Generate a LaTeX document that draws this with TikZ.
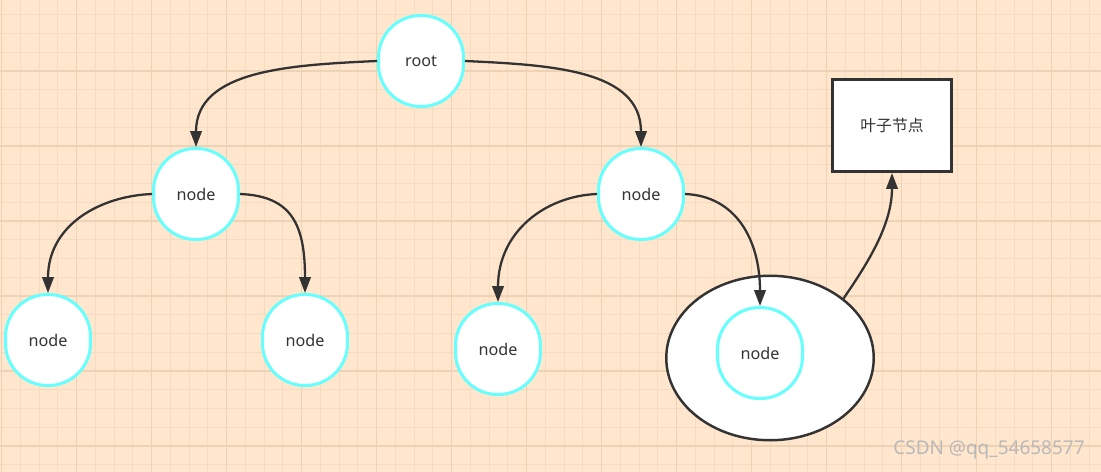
\documentclass[tikz,border=0pt]{standalone}
\usepackage{fontspec}
\setmainfont{Noto Sans}
\newfontfamily\cjk{Noto Sans CJK SC}
\usetikzlibrary{arrows.meta,shapes.geometric}
\definecolor{peach}{HTML}{FFE6CC}
\definecolor{gridminor}{HTML}{F5DBC2}
\definecolor{gridmajor}{HTML}{EDD2B6}
\definecolor{ink}{HTML}{333333}
\definecolor{aqua}{HTML}{66FFFF}
\tikzset{
  treenode/.style={draw=aqua,line width=1.7pt,fill=white,rectangle,rounded corners=0.84cm,
    minimum width=1.7cm,minimum height=1.82cm,inner sep=0pt,text=ink,font=\fontsize{9.2}{11}\selectfont},
  link/.style={draw=ink,line width=1.3pt,-{Triangle[length=9pt,width=6.5pt]}}
}
\begin{document}
\begin{tikzpicture}[x=0.02cm,y=-0.02cm]
\useasboundingbox (0,0) rectangle (1101,472);
% PAPER AND GRID
\fill [peach] (0,0) rectangle (1101,472);
\foreach \k in {0,...,58} \draw [gridminor,line width=0.55pt] ({1.7+18.75*\k},0) -- ({1.7+18.75*\k},472);
\foreach \k in {-3,...,21} \draw [gridminor,line width=0.55pt] (0,{71+18.75*\k}) -- (1101,{71+18.75*\k});
\foreach \k in {0,...,14} \draw [gridmajor,line width=0.8pt] ({1.7+75*\k},0) -- ({1.7+75*\k},472);
\foreach \k in {0,...,5} \draw [gridmajor,line width=0.8pt] (0,{71+75*\k}) -- (1101,{71+75*\k});
% THE TREE
\node [treenode] (root) at (421,61) {root};
\node [treenode] (left) at (196,194) {node};
\node [treenode] (right) at (641,194) {node};
\node [treenode] (leftleft) at (48,340) {node};
\node [treenode] (leftright) at (305,340) {node};
\node [treenode] (rightleft) at (498,349) {node};
% LEAF GROUP
\node [draw=ink,line width=1.4pt,fill=white,ellipse,minimum width=4.15cm,minimum height=3.29cm] (group) at (770,358) {};
\node [treenode] (inner) at (760,353) {node};
\node [draw=ink,line width=1.7pt,fill=white,minimum width=2.38cm,minimum height=1.84cm,text=ink,font=\cjk\fontsize{9}{11}\selectfont] (leaf) at (892,125.5) {叶子节点};
% EDGES
\draw [link] (root.west) .. controls +(-87,4) and (196,70) .. (left.north);
\draw [link] (root.east) .. controls +(87,4) and (641,70) .. (right.north);
\draw [link] (left.west) .. controls +(-52,2) and (48,225) .. (leftleft.north);
\draw [link] (left.east) .. controls +(52,2) and (305,225) .. (leftright.north);
\draw [link] (right.west) .. controls +(-52,2) and (498,232) .. (rightleft.north);
\draw [link] (right.east) .. controls +(51,2) and (760,240) .. (inner.north);
\draw [link] (group.39) .. controls +(24,-35) and (892,225) .. (leaf.south);
% WATERMARK
\node [text=gray!55,font=\fontsize{10.8}{12}\selectfont] (mark) at (989,450) {CSDN @qq\_54658577};
\end{tikzpicture}
\end{document}
